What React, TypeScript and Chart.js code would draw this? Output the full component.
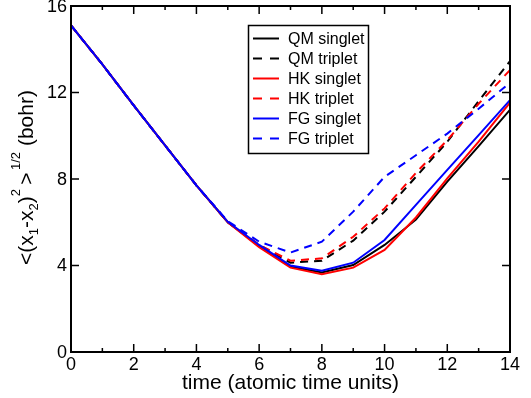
import React, { useEffect, useRef } from "react";
import { Chart, registerables } from "chart.js";

Chart.register(...registerables);

const FONT = "'Liberation Sans', Arial, Helvetica, sans-serif";

// ---- data ----
const times = [0, 1, 2, 3, 4, 5, 6, 7, 8, 9, 10, 11, 12, 13, 14];
const qmSinglet = [15.1, 13.3, 11.4, 9.55, 7.7, 6.0, 4.9, 3.95, 3.68, 4.02, 4.95, 6.12, 7.88, 9.52, 11.2];
const qmTriplet = [15.1, 13.3, 11.4, 9.55, 7.7, 6.0, 4.95, 4.13, 4.22, 5.15, 6.49, 8.1, 9.72, 11.6, 13.45];
const hkSinglet = [15.1, 13.3, 11.4, 9.55, 7.7, 6.0, 4.85, 3.9, 3.6, 3.9, 4.72, 6.22, 8.03, 9.73, 11.53];
const hkTriplet = [15.1, 13.3, 11.4, 9.55, 7.7, 6.0, 4.95, 4.22, 4.33, 5.33, 6.64, 8.28, 9.8, 11.48, 13.04];
const fgSinglet = [15.1, 13.3, 11.4, 9.55, 7.7, 6.02, 4.95, 4.0, 3.76, 4.13, 5.18, 6.8, 8.42, 10.03, 11.65];
const fgTriplet = [15.1, 13.3, 11.4, 9.55, 7.7, 6.05, 5.1, 4.6, 5.1, 6.49, 8.1, 9.1, 10.1, 11.25, 12.45];

const seriesLabels = ["QM singlet", "QM triplet", "HK singlet", "HK triplet", "FG singlet", "FG triplet"];
const seriesValues = [qmSinglet, qmTriplet, hkSinglet, hkTriplet, fgSinglet, fgTriplet];
const seriesColors = ["#000000", "#000000", "#ff0000", "#ff0000", "#0000ff", "#0000ff"];
const seriesDashed = [false, true, false, true, false, true];

const xMin = 0;
const xMax = 14;
const xStep = 2;
const xMinorTicks = [1, 3, 5, 7, 9, 11, 13];
const yMin = 0;
const yMax = 16;
const yStep = 4;

const xTitle = "time (atomic time units)";
// y title pieces: [text, kind] kind: "n" normal, "sub", "sup"
const yTitleParts: [string, string][] = [
  ["<(x", "n"],
  ["1", "sub"],
  ["-x", "n"],
  ["2", "sub"],
  [")", "n"],
  ["2", "sup"],
  ["\u2009>", "n"],
  ["\u20091/2", "sup"],
  [" (bohr)", "n"],
];

const decorPlugin = {
  id: "decor",
  afterDraw(chart: any) {
    const { ctx, chartArea: a, scales } = chart;
    const xs = scales.x;
    const ys = scales.y;
    ctx.save();

    // ticks (inward, all four sides)
    ctx.strokeStyle = "#000";
    ctx.lineWidth = 1.5;
    ctx.setLineDash([]);
    ctx.beginPath();
    xs.ticks.forEach((t: any) => {
      const px = xs.getPixelForValue(t.value);
      ctx.moveTo(px, a.bottom);
      ctx.lineTo(px, a.bottom - 8);
      ctx.moveTo(px, a.top);
      ctx.lineTo(px, a.top + 8);
    });
    xMinorTicks.forEach((v) => {
      const px = xs.getPixelForValue(v);
      ctx.moveTo(px, a.bottom);
      ctx.lineTo(px, a.bottom - 4);
      ctx.moveTo(px, a.top);
      ctx.lineTo(px, a.top + 4);
    });
    ys.ticks.forEach((t: any) => {
      const py = ys.getPixelForValue(t.value);
      ctx.moveTo(a.left, py);
      ctx.lineTo(a.left + 8, py);
      ctx.moveTo(a.right, py);
      ctx.lineTo(a.right - 8, py);
    });
    ctx.stroke();

    // frame
    ctx.lineWidth = 2;
    ctx.strokeRect(a.left, a.top, a.right - a.left, a.bottom - a.top);

    // legend
    const bx = 248.5, by = 25.5, bw = 120, bh = 128;
    ctx.fillStyle = "#fff";
    ctx.fillRect(bx, by, bw, bh);
    ctx.lineWidth = 1.5;
    ctx.strokeStyle = "#000";
    ctx.strokeRect(bx, by, bw, bh);
    ctx.font = `16px ${FONT}`;
    ctx.textBaseline = "middle";
    ctx.textAlign = "left";
    chart.data.datasets.forEach((ds: any, i: number) => {
      const y = 38.5 + i * 20;
      ctx.strokeStyle = ds.borderColor;
      ctx.lineWidth = 2;
      ctx.setLineDash(seriesDashed[i] ? [9, 8] : []);
      ctx.beginPath();
      ctx.moveTo(253, y);
      ctx.lineTo(279, y);
      ctx.stroke();
      ctx.setLineDash([]);
      ctx.fillStyle = "#000";
      ctx.fillText(ds.label, 288, y + 1);
    });

    // y title (rotated, with sub/superscripts)
    ctx.translate(33, 265);
    ctx.rotate(-Math.PI / 2);
    ctx.fillStyle = "#000";
    ctx.textBaseline = "alphabetic";
    let u = 0;
    yTitleParts.forEach(([txt, kind]) => {
      const size = kind === "n" ? 21 : 13;
      ctx.font = `${size}px ${FONT}`;
      const dv = kind === "sub" ? 5 : kind === "sup" ? -13 : 0;
      ctx.fillText(txt, u, dv);
      u += ctx.measureText(txt).width;
    });
    ctx.restore();
  },
};

export default function App() {
  const canvasRef = useRef<HTMLCanvasElement | null>(null);

  useEffect(() => {
    if (!canvasRef.current) return;
    Chart.defaults.font.family = FONT;
    const datasets = seriesLabels.map((label, i) => ({
      label,
      data: times.map((t, j) => ({ x: t, y: seriesValues[i][j] })),
      borderColor: seriesColors[i],
      backgroundColor: seriesColors[i],
      borderWidth: 2,
      borderDash: seriesDashed[i] ? [8, 6] : [],
      pointRadius: 0,
      fill: false,
      tension: 0,
      order: seriesLabels.length - i,
    }));
    const chart = new Chart(canvasRef.current, {
      type: "line",
      data: { datasets },
      options: {
        animation: false,
        responsive: false,
        devicePixelRatio: 1,
        layout: { padding: { left: 0, right: 21, top: 6, bottom: 0 } },
        plugins: { legend: { display: false }, tooltip: { enabled: false } },
        scales: {
          x: {
            type: "linear",
            min: xMin,
            max: xMax,
            ticks: { stepSize: xStep, color: "#000", font: { size: 18 }, padding: 2, maxRotation: 0, autoSkip: false },
            grid: { display: false, drawTicks: false },
            border: { display: false },
            title: {
              display: true,
              text: xTitle,
              color: "#000",
              font: { size: 21 },
              padding: { top: 0, bottom: 2 },
            },
            afterFit: (s: any) => {
              s.height = 46;
              s.paddingLeft = 0;
              s.paddingRight = 0;
            },
          },
          y: {
            type: "linear",
            min: yMin,
            max: yMax,
            ticks: { stepSize: yStep, color: "#000", font: { size: 18 }, padding: 4, labelOffset: 1 },
            grid: { display: false, drawTicks: false },
            border: { display: false },
            afterFit: (s: any) => {
              s.width = 71;
              s.paddingTop = 0;
              s.paddingBottom = 0;
            },
          },
        },
      },
      plugins: [decorPlugin],
    } as any);
    return () => chart.destroy();
  }, []);

  return (
    <div style={{ position: "absolute", left: 0, top: 0, width: 531, height: 398, background: "#fff" }}>
      <canvas ref={canvasRef} width={531} height={398} style={{ display: "block", width: 531, height: 398 }} />
    </div>
  );
}
